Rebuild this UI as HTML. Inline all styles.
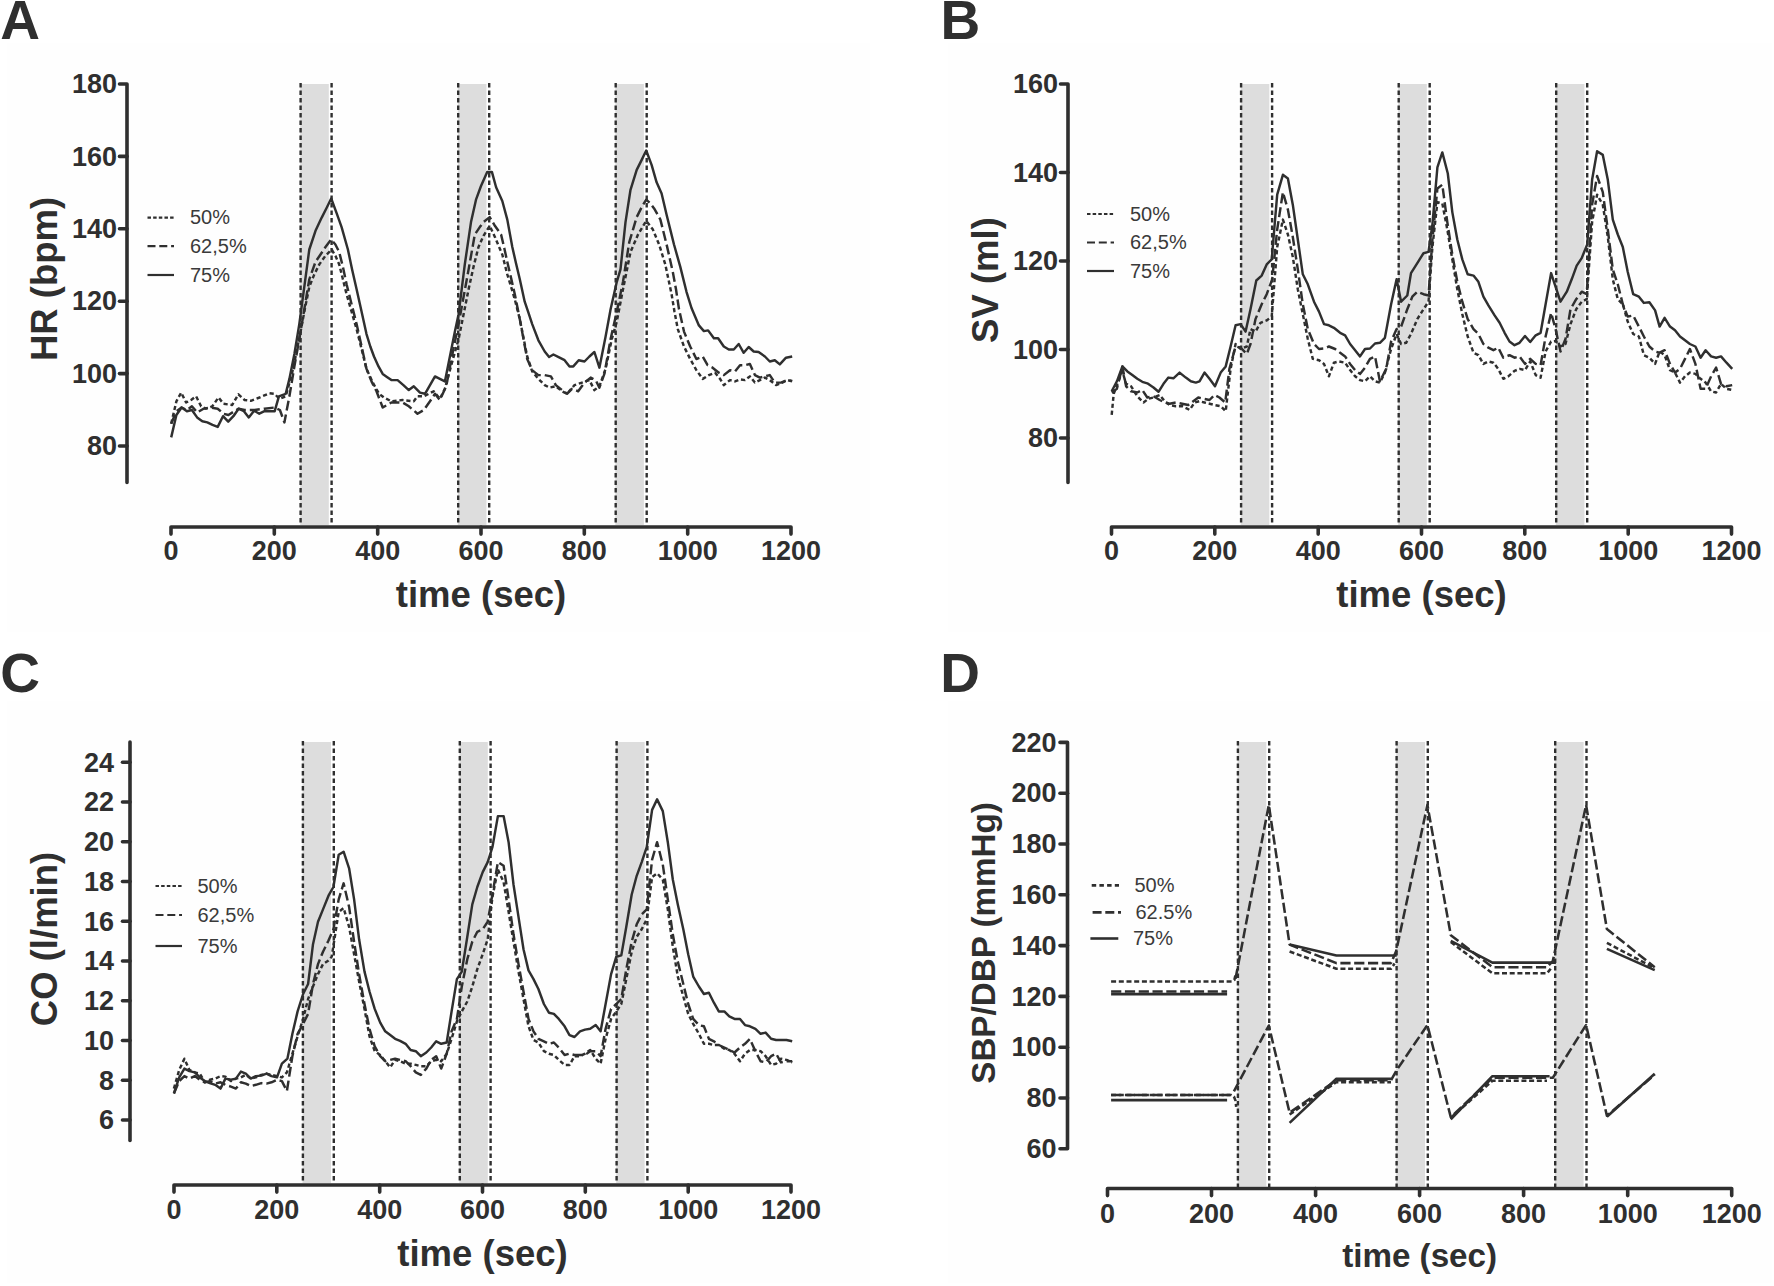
<!DOCTYPE html>
<html lang="en"><head><meta charset="utf-8"><title>Figure</title>
<style>html,body{margin:0;padding:0;background:#fff;overflow:hidden}svg{display:block}text{font-family:"Liberation Sans",Arial,Helvetica,sans-serif;fill:#2f2f2f}.tk{font-size:27px;font-weight:bold}.tt{font-weight:bold}.pl{font-size:55px;font-weight:bold}.lg{font-size:20px;fill:#3a3a3a}</style></head><body>
<svg width="1774" height="1286" viewBox="0 0 1774 1286">
<rect width="1774" height="1286" fill="#fff"/>
<rect x="7" y="43" width="862.5" height="589" fill="#fefefe"/>
<rect x="948" y="43" width="823.5" height="589" fill="#fefefe"/>
<rect x="7" y="701" width="862.5" height="581.5" fill="#fefefe"/>
<rect x="948" y="701" width="823.5" height="581.5" fill="#fefefe"/>
<g>
<rect x="300.2" y="84.0" width="28.6" height="441.0" fill="#dddddd"/>
<rect x="457.8" y="84.0" width="28.6" height="441.0" fill="#dddddd"/>
<rect x="615.3" y="84.0" width="28.6" height="441.0" fill="#dddddd"/>
<polyline points="171.2,423.7 176.4,401.3 181.2,392.6 186.1,402.5 191.1,400.0 196.1,396.3 201.1,406.3 206.0,408.7 212.3,406.3 218.5,397.5 223.5,403.8 232.2,405.0 238.4,394.3 244.6,400.0 250.8,400.8 259.5,397.5 269.5,393.3 274.5,393.8 279.4,398.8 285.7,396.3 291.9,373.9 296.4,352.8 300.6,331.6 304.8,309.2 309.3,286.8 314.3,274.4 319.3,264.4 325.5,255.7 331.7,249.5 335.4,255.7 339.2,264.4 342.9,279.3 346.6,294.3 351.6,311.7 356.6,329.1 361.6,349.0 366.5,368.9 372.8,382.6 379.0,393.8 384.0,397.5 391.4,401.3 402.6,400.0 413.8,401.3 417.5,396.3 423.8,396.3 433.7,391.3 439.9,398.8 444.9,388.8 451.6,364.0 458.6,339.1 463.6,314.2 468.6,289.3 473.5,266.9 478.5,247.0 483.5,235.8 489.7,225.8 494.9,237.0 502.3,254.5 507.3,274.4 511.1,286.8 514.8,299.3 519.8,319.2 523.5,337.8 527.2,356.5 532.2,371.4 538.4,378.9 544.7,385.1 549.6,387.6 555.8,386.3 562.1,391.3 567.0,393.8 574.5,385.1 582.0,382.6 589.4,380.1 594.4,390.1 599.4,386.3 605.6,368.9 611.8,339.1 616.8,321.6 623.0,289.3 626.8,270.6 630.5,252.0 638.0,234.6 646.2,220.9 652.9,229.6 659.1,244.5 665.3,264.4 671.6,294.3 674.5,311.7 677.8,329.1 684.0,346.5 690.2,359.0 696.4,370.2 702.7,378.9 708.9,375.1 715.1,372.7 720.1,378.9 723.8,385.1 730.0,380.1 735.0,381.4 740.0,379.4 745.0,380.1 749.9,376.4 754.9,382.6 759.9,380.1 764.9,377.6 769.8,380.1 776.1,385.1 782.3,382.6 787.3,380.1 792.2,381.4" fill="none" stroke="#2f2f2f" stroke-width="2.45" stroke-linejoin="round" stroke-dasharray="4.2 2.8"/>
<polyline points="171.2,423.7 176.4,411.2 181.6,407.5 186.9,410.0 191.9,406.3 197.3,412.5 203.5,408.7 209.8,407.5 217.7,408.7 223.5,413.7 228.4,415.0 238.4,408.7 244.6,410.0 254.6,410.0 264.5,408.7 274.5,407.5 279.9,410.0 284.4,422.4 289.4,396.3 294.4,366.4 299.3,339.1 304.3,309.2 309.3,279.3 315.5,261.9 320.5,254.5 325.5,247.0 331.2,239.5 335.4,244.5 339.2,252.0 342.9,266.9 346.6,284.3 351.6,304.2 356.6,324.1 361.6,346.5 366.5,368.9 371.5,381.4 376.5,391.3 382.7,407.5 391.4,402.5 397.6,402.5 402.6,402.5 408.8,406.3 417.5,413.7 423.8,410.0 430.0,401.3 435.0,393.8 439.9,400.0 446.2,386.3 452.4,354.0 458.6,324.1 463.6,296.8 468.6,269.4 474.8,234.6 479.8,227.1 483.5,222.1 489.7,217.1 494.9,225.8 501.1,234.6 504.3,248.2 507.3,261.9 511.1,278.1 514.8,294.3 519.8,319.2 523.5,339.1 527.2,359.0 532.2,370.2 538.4,375.1 544.7,375.1 550.9,376.4 555.8,385.1 562.1,390.1 567.0,393.8 572.0,388.8 578.2,391.3 584.5,382.6 590.7,377.6 595.7,380.1 599.4,387.6 604.4,373.9 610.6,339.1 616.8,311.7 623.0,281.8 629.3,242.0 633.0,229.6 636.7,217.1 641.7,207.2 646.2,199.7 650.4,203.5 654.1,208.4 660.4,219.6 666.6,244.5 672.8,271.9 676.0,289.3 679.0,309.2 684.0,331.6 690.2,346.5 696.4,359.0 702.7,356.5 707.6,365.2 712.6,367.7 718.8,372.7 723.8,375.1 730.0,370.2 735.0,371.4 740.0,365.2 745.0,365.2 749.9,364.0 754.9,375.1 759.9,377.6 764.9,376.4 769.8,375.1 774.8,382.6 781.0,382.6 787.3,380.1 792.2,380.9" fill="none" stroke="#2f2f2f" stroke-width="2.45" stroke-linejoin="round" stroke-dasharray="10 4"/>
<polyline points="171.2,437.4 176.4,415.0 181.6,407.5 186.9,411.2 191.9,410.0 197.1,417.4 202.3,421.2 207.3,422.4 212.5,424.9 217.7,426.9 223.0,416.2 228.2,421.7 233.4,416.2 238.6,408.7 243.9,411.2 248.8,417.4 254.1,410.7 259.3,413.7 264.5,411.2 269.5,411.2 274.7,411.2 278.9,396.3 285.7,393.8 289.4,378.9 294.4,354.0 299.3,324.1 304.3,286.8 309.3,249.5 315.5,230.8 321.7,217.6 326.7,207.7 331.2,198.5 336.7,213.4 341.6,227.1 347.9,249.5 352.1,269.4 356.6,289.3 361.6,311.7 366.5,334.1 370.3,346.5 374.0,356.5 378.5,366.4 382.7,373.9 386.9,376.9 391.4,380.1 397.6,380.1 403.4,385.1 408.8,390.1 413.8,386.3 420.0,392.6 425.0,393.8 430.0,385.1 435.0,376.4 439.9,378.9 444.9,381.4 449.9,356.5 454.9,331.6 458.6,314.2 464.8,264.4 471.0,222.1 476.0,199.7 481.0,186.0 487.2,171.9 491.9,171.9 496.1,187.3 502.3,201.0 507.3,219.6 512.3,247.0 516.0,263.2 519.8,279.3 524.7,301.7 528.5,312.9 532.2,324.1 538.4,340.3 544.7,351.5 549.1,357.0 553.4,354.5 559.6,357.7 564.6,360.2 569.5,366.4 573.3,366.4 578.7,360.2 584.5,361.5 589.4,356.5 594.4,352.0 599.4,367.7 605.6,336.6 610.6,309.2 616.8,281.8 620.5,269.4 625.5,222.1 630.5,189.8 636.7,169.9 641.7,159.9 646.2,150.5 651.6,164.9 656.6,182.3 661.6,193.5 666.6,214.7 670.3,229.6 674.0,244.5 680.3,266.9 686.5,291.8 691.5,308.0 695.2,316.7 698.9,325.4 703.9,331.1 708.1,330.4 713.9,338.3 718.1,338.3 723.8,346.5 728.8,349.5 733.8,349.5 738.7,344.0 743.7,352.8 748.7,347.0 753.7,351.5 758.6,352.0 764.9,356.5 769.8,361.5 774.8,360.2 779.8,364.4 786.0,357.7 792.2,356.5" fill="none" stroke="#2f2f2f" stroke-width="2.45" stroke-linejoin="round"/>
<line x1="300.6" y1="83.0" x2="300.6" y2="525.5" stroke="#2f2f2f" stroke-width="2.4" stroke-dasharray="4.6 2.9"/>
<line x1="331.6" y1="83.0" x2="331.6" y2="525.5" stroke="#2f2f2f" stroke-width="2.4" stroke-dasharray="4.6 2.9"/>
<line x1="458.2" y1="83.0" x2="458.2" y2="525.5" stroke="#2f2f2f" stroke-width="2.4" stroke-dasharray="4.6 2.9"/>
<line x1="489.2" y1="83.0" x2="489.2" y2="525.5" stroke="#2f2f2f" stroke-width="2.4" stroke-dasharray="4.6 2.9"/>
<line x1="615.7" y1="83.0" x2="615.7" y2="525.5" stroke="#2f2f2f" stroke-width="2.4" stroke-dasharray="4.6 2.9"/>
<line x1="646.7" y1="83.0" x2="646.7" y2="525.5" stroke="#2f2f2f" stroke-width="2.4" stroke-dasharray="4.6 2.9"/>
<polyline points="119.5,84.0 127.0,84.0 127.0,482.5" fill="none" stroke="#2f2f2f" stroke-width="3.6" stroke-linejoin="round" stroke-linecap="round"/>
<polyline points="171.0,534.1 171.0,527.0 791.0,527.0 791.0,534.1" fill="none" stroke="#2f2f2f" stroke-width="3.6" stroke-linejoin="round" stroke-linecap="round"/>
<text x="117.0" y="93.2" text-anchor="end" class="tk">180</text>
<line x1="119.5" y1="156.4" x2="127" y2="156.4" stroke="#2f2f2f" stroke-width="3.6" stroke-linecap="round"/>
<text x="117.0" y="165.6" text-anchor="end" class="tk">160</text>
<line x1="119.5" y1="228.8" x2="127" y2="228.8" stroke="#2f2f2f" stroke-width="3.6" stroke-linecap="round"/>
<text x="117.0" y="238.0" text-anchor="end" class="tk">140</text>
<line x1="119.5" y1="301.2" x2="127" y2="301.2" stroke="#2f2f2f" stroke-width="3.6" stroke-linecap="round"/>
<text x="117.0" y="310.4" text-anchor="end" class="tk">120</text>
<line x1="119.5" y1="373.6" x2="127" y2="373.6" stroke="#2f2f2f" stroke-width="3.6" stroke-linecap="round"/>
<text x="117.0" y="382.8" text-anchor="end" class="tk">100</text>
<line x1="119.5" y1="446.0" x2="127" y2="446.0" stroke="#2f2f2f" stroke-width="3.6" stroke-linecap="round"/>
<text x="117.0" y="455.2" text-anchor="end" class="tk">80</text>
<text x="171.0" y="560.2" text-anchor="middle" class="tk">0</text>
<line x1="274.3" y1="527" x2="274.3" y2="534.1" stroke="#2f2f2f" stroke-width="3.6" stroke-linecap="round"/>
<text x="274.3" y="560.2" text-anchor="middle" class="tk">200</text>
<line x1="377.7" y1="527" x2="377.7" y2="534.1" stroke="#2f2f2f" stroke-width="3.6" stroke-linecap="round"/>
<text x="377.7" y="560.2" text-anchor="middle" class="tk">400</text>
<line x1="481.0" y1="527" x2="481.0" y2="534.1" stroke="#2f2f2f" stroke-width="3.6" stroke-linecap="round"/>
<text x="481.0" y="560.2" text-anchor="middle" class="tk">600</text>
<line x1="584.3" y1="527" x2="584.3" y2="534.1" stroke="#2f2f2f" stroke-width="3.6" stroke-linecap="round"/>
<text x="584.3" y="560.2" text-anchor="middle" class="tk">800</text>
<line x1="687.7" y1="527" x2="687.7" y2="534.1" stroke="#2f2f2f" stroke-width="3.6" stroke-linecap="round"/>
<text x="687.7" y="560.2" text-anchor="middle" class="tk">1000</text>
<text x="791.0" y="560.2" text-anchor="middle" class="tk">1200</text>
<text x="481.0" y="607.0" text-anchor="middle" class="tt" style="font-size:36.5px">time (sec)</text>
<text transform="translate(57.0,279.0) rotate(-90)" text-anchor="middle" class="tt" style="font-size:36.5px">HR (bpm)</text>
<text x="0.3" y="39.1" class="pl">A</text>
<line x1="147.5" y1="217.6" x2="174.0" y2="217.6" stroke="#2f2f2f" stroke-width="2.2" stroke-dasharray="3.5 2.15"/>
<text x="190.0" y="224.4" class="lg">50%</text>
<line x1="147.5" y1="246.2" x2="174.0" y2="246.2" stroke="#2f2f2f" stroke-width="2.2" stroke-dasharray="8 3.8"/>
<text x="190.0" y="253.0" class="lg">62,5%</text>
<line x1="147.5" y1="275.0" x2="174.0" y2="275.0" stroke="#2f2f2f" stroke-width="2.2" />
<text x="190.0" y="281.8" class="lg">75%</text>
</g>
<g>
<rect x="1240.7" y="84.0" width="28.6" height="441.0" fill="#dddddd"/>
<rect x="1398.2" y="84.0" width="28.6" height="441.0" fill="#dddddd"/>
<rect x="1555.8" y="84.0" width="28.6" height="441.0" fill="#dddddd"/>
<polyline points="1111.7,414.9 1113.7,393.8 1117.4,383.8 1122.4,371.4 1126.1,383.8 1131.1,386.3 1137.3,396.3 1143.5,402.5 1148.5,398.7 1153.5,397.5 1159.7,395.0 1164.7,401.2 1169.7,405.0 1175.9,406.2 1182.1,406.2 1189.6,409.9 1194.6,402.5 1199.5,401.2 1204.5,402.5 1209.5,403.7 1214.5,405.0 1220.7,406.2 1225.7,411.2 1230.6,368.9 1235.6,344.0 1240.6,349.0 1246.8,346.5 1250.5,329.1 1255.5,331.6 1260.5,322.8 1266.7,320.4 1271.7,316.6 1277.2,247.0 1282.9,219.6 1287.9,234.5 1292.8,256.9 1297.8,289.3 1302.8,314.1 1307.8,339.0 1312.8,358.9 1319.0,360.2 1324.0,363.9 1328.9,376.3 1333.9,362.7 1338.9,361.4 1345.1,362.7 1350.1,370.1 1355.1,376.3 1360.0,380.1 1365.0,381.3 1370.0,376.3 1375.0,381.3 1379.9,382.6 1384.9,372.6 1391.1,349.0 1396.6,334.0 1401.1,344.0 1406.1,342.8 1411.0,334.0 1417.3,319.1 1423.5,309.2 1428.5,301.7 1432.4,247.0 1437.4,202.2 1442.3,203.4 1447.3,229.5 1452.3,259.4 1457.3,289.3 1462.3,314.1 1467.7,336.5 1473.5,352.7 1478.4,355.2 1483.4,363.9 1488.4,361.4 1493.4,362.7 1498.3,368.9 1503.3,378.8 1508.3,376.3 1514.5,370.9 1519.5,368.9 1525.0,370.1 1530.2,361.4 1535.7,375.1 1540.6,377.6 1545.6,351.5 1551.1,341.5 1555.6,341.0 1560.5,346.5 1565.5,344.0 1570.5,324.1 1576.2,309.2 1581.7,301.7 1586.7,299.2 1592.1,222.1 1597.1,194.7 1602.8,204.7 1607.8,237.0 1612.8,279.3 1617.8,299.2 1622.8,304.2 1627.7,321.6 1633.2,334.0 1638.9,336.5 1643.9,355.2 1649.4,357.7 1655.1,363.9 1659.6,351.5 1664.6,355.2 1670.0,370.1 1675.0,372.6 1680.0,382.6 1685.0,376.3 1689.9,372.6 1695.4,373.9 1700.6,378.8 1705.6,382.6 1711.1,391.3 1716.1,392.5 1721.0,383.8 1726.5,388.8 1732.2,390.0" fill="none" stroke="#2f2f2f" stroke-width="2.45" stroke-linejoin="round" stroke-dasharray="4.2 2.8"/>
<polyline points="1111.7,392.5 1116.9,388.8 1122.4,366.4 1126.1,386.3 1131.1,391.3 1137.3,392.5 1142.3,390.0 1147.3,397.5 1153.5,396.3 1159.7,400.0 1164.7,402.5 1169.7,403.7 1175.9,402.5 1182.1,403.7 1188.3,405.0 1193.3,401.2 1198.3,397.5 1203.3,398.7 1209.5,400.0 1214.5,395.0 1219.4,397.5 1225.2,402.5 1229.4,368.9 1235.6,346.5 1240.6,347.7 1246.8,354.0 1250.5,344.0 1255.5,319.1 1261.7,304.2 1266.7,294.2 1272.2,279.3 1277.2,229.5 1282.9,192.2 1287.9,209.6 1292.8,237.0 1297.8,269.3 1302.8,304.2 1307.8,329.1 1314.0,344.0 1319.0,349.0 1324.0,348.5 1328.9,346.5 1335.1,349.0 1340.1,352.7 1345.1,356.4 1350.1,363.9 1355.1,370.1 1360.0,373.9 1365.0,367.6 1370.0,358.9 1375.0,356.4 1379.9,381.3 1386.2,368.9 1391.1,341.5 1396.6,329.1 1401.1,326.6 1407.3,309.2 1412.3,296.7 1417.3,291.7 1423.5,294.2 1428.5,295.5 1432.4,239.5 1437.4,188.5 1442.3,184.7 1447.3,222.1 1452.3,254.4 1457.3,281.8 1462.3,301.7 1467.7,319.1 1473.5,329.1 1478.4,334.0 1483.4,344.0 1488.4,347.7 1493.4,350.2 1498.3,347.7 1503.3,357.7 1509.5,355.2 1514.5,357.7 1519.5,356.4 1525.0,363.9 1530.2,358.9 1535.7,363.9 1540.6,365.1 1545.6,336.5 1551.1,312.9 1555.6,329.1 1560.5,351.5 1565.5,339.0 1570.5,309.2 1576.2,299.2 1581.7,291.7 1586.7,294.2 1592.1,204.7 1597.1,176.0 1602.8,192.2 1607.8,229.5 1612.8,269.3 1617.8,284.3 1622.8,304.2 1627.7,316.6 1633.2,315.4 1638.9,326.6 1643.9,336.5 1649.4,346.5 1655.1,351.5 1659.6,352.7 1664.6,350.2 1670.0,363.9 1675.0,372.6 1680.0,368.9 1685.0,358.9 1689.9,349.0 1695.4,363.9 1700.6,388.8 1705.6,388.8 1711.1,376.3 1716.1,367.6 1721.0,383.8 1726.5,386.3 1732.2,385.1" fill="none" stroke="#2f2f2f" stroke-width="2.45" stroke-linejoin="round" stroke-dasharray="10 4"/>
<polyline points="1111.7,391.3 1116.9,381.3 1122.4,366.4 1127.4,371.4 1132.3,375.1 1137.3,378.8 1142.3,381.8 1147.3,383.3 1153.5,387.5 1158.5,391.8 1163.5,383.8 1168.4,377.6 1173.4,378.3 1179.6,372.6 1185.8,377.6 1190.8,381.3 1195.8,382.6 1199.5,381.3 1204.5,372.6 1209.5,378.8 1215.0,386.3 1220.7,372.6 1225.7,366.4 1230.6,346.5 1235.6,325.3 1240.6,324.1 1245.6,331.6 1250.5,309.2 1256.3,280.5 1261.7,275.6 1266.7,264.4 1271.7,259.4 1277.2,194.7 1282.9,174.8 1287.9,178.5 1292.8,204.7 1297.8,239.5 1302.8,274.3 1307.8,284.3 1314.0,301.7 1319.0,311.6 1324.0,324.1 1328.9,325.3 1333.9,327.8 1340.1,332.8 1345.1,335.3 1350.1,344.0 1355.1,350.2 1360.0,356.4 1365.0,349.0 1370.0,348.5 1375.0,343.5 1379.9,342.8 1384.9,337.8 1391.1,304.2 1396.6,279.3 1401.1,301.7 1407.3,295.5 1411.0,273.1 1417.3,263.1 1423.5,253.2 1428.5,251.9 1432.4,224.6 1437.4,167.3 1442.3,152.4 1447.8,173.5 1452.3,212.1 1457.3,239.5 1462.3,259.4 1467.7,274.3 1473.5,275.6 1478.4,281.8 1483.4,296.7 1488.4,305.4 1494.6,315.4 1499.6,322.8 1504.6,332.8 1509.5,341.5 1514.5,345.2 1519.5,342.8 1525.0,336.0 1530.2,342.0 1535.7,335.3 1540.6,332.8 1545.6,304.2 1551.1,273.1 1555.6,286.8 1560.5,301.7 1566.8,291.7 1571.7,279.3 1576.7,265.6 1581.7,258.1 1587.2,244.5 1592.1,179.8 1597.1,151.2 1602.8,154.9 1607.8,179.8 1612.8,219.6 1617.8,234.5 1622.8,247.0 1627.7,271.8 1633.2,294.2 1638.9,296.7 1643.9,302.9 1649.4,302.2 1655.1,310.4 1659.6,326.6 1664.6,317.9 1670.0,326.6 1675.0,330.3 1680.0,336.5 1685.0,340.3 1689.9,344.0 1695.4,346.5 1700.6,357.7 1705.6,350.2 1711.1,356.4 1716.1,357.7 1721.0,356.4 1726.5,362.7 1732.2,368.9" fill="none" stroke="#2f2f2f" stroke-width="2.45" stroke-linejoin="round"/>
<line x1="1241.1" y1="83.0" x2="1241.1" y2="525.5" stroke="#2f2f2f" stroke-width="2.4" stroke-dasharray="4.6 2.9"/>
<line x1="1272.1" y1="83.0" x2="1272.1" y2="525.5" stroke="#2f2f2f" stroke-width="2.4" stroke-dasharray="4.6 2.9"/>
<line x1="1398.7" y1="83.0" x2="1398.7" y2="525.5" stroke="#2f2f2f" stroke-width="2.4" stroke-dasharray="4.6 2.9"/>
<line x1="1429.7" y1="83.0" x2="1429.7" y2="525.5" stroke="#2f2f2f" stroke-width="2.4" stroke-dasharray="4.6 2.9"/>
<line x1="1556.2" y1="83.0" x2="1556.2" y2="525.5" stroke="#2f2f2f" stroke-width="2.4" stroke-dasharray="4.6 2.9"/>
<line x1="1587.2" y1="83.0" x2="1587.2" y2="525.5" stroke="#2f2f2f" stroke-width="2.4" stroke-dasharray="4.6 2.9"/>
<polyline points="1060.5,84.0 1068.0,84.0 1068.0,482.5" fill="none" stroke="#2f2f2f" stroke-width="3.6" stroke-linejoin="round" stroke-linecap="round"/>
<polyline points="1111.5,534.1 1111.5,527.0 1731.5,527.0 1731.5,534.1" fill="none" stroke="#2f2f2f" stroke-width="3.6" stroke-linejoin="round" stroke-linecap="round"/>
<text x="1058.0" y="93.2" text-anchor="end" class="tk">160</text>
<line x1="1060.5" y1="172.5" x2="1068" y2="172.5" stroke="#2f2f2f" stroke-width="3.6" stroke-linecap="round"/>
<text x="1058.0" y="181.7" text-anchor="end" class="tk">140</text>
<line x1="1060.5" y1="261.0" x2="1068" y2="261.0" stroke="#2f2f2f" stroke-width="3.6" stroke-linecap="round"/>
<text x="1058.0" y="270.2" text-anchor="end" class="tk">120</text>
<line x1="1060.5" y1="349.5" x2="1068" y2="349.5" stroke="#2f2f2f" stroke-width="3.6" stroke-linecap="round"/>
<text x="1058.0" y="358.7" text-anchor="end" class="tk">100</text>
<line x1="1060.5" y1="438.0" x2="1068" y2="438.0" stroke="#2f2f2f" stroke-width="3.6" stroke-linecap="round"/>
<text x="1058.0" y="447.2" text-anchor="end" class="tk">80</text>
<text x="1111.5" y="560.2" text-anchor="middle" class="tk">0</text>
<line x1="1214.8" y1="527" x2="1214.8" y2="534.1" stroke="#2f2f2f" stroke-width="3.6" stroke-linecap="round"/>
<text x="1214.8" y="560.2" text-anchor="middle" class="tk">200</text>
<line x1="1318.2" y1="527" x2="1318.2" y2="534.1" stroke="#2f2f2f" stroke-width="3.6" stroke-linecap="round"/>
<text x="1318.2" y="560.2" text-anchor="middle" class="tk">400</text>
<line x1="1421.5" y1="527" x2="1421.5" y2="534.1" stroke="#2f2f2f" stroke-width="3.6" stroke-linecap="round"/>
<text x="1421.5" y="560.2" text-anchor="middle" class="tk">600</text>
<line x1="1524.8" y1="527" x2="1524.8" y2="534.1" stroke="#2f2f2f" stroke-width="3.6" stroke-linecap="round"/>
<text x="1524.8" y="560.2" text-anchor="middle" class="tk">800</text>
<line x1="1628.2" y1="527" x2="1628.2" y2="534.1" stroke="#2f2f2f" stroke-width="3.6" stroke-linecap="round"/>
<text x="1628.2" y="560.2" text-anchor="middle" class="tk">1000</text>
<text x="1731.5" y="560.2" text-anchor="middle" class="tk">1200</text>
<text x="1421.5" y="607.0" text-anchor="middle" class="tt" style="font-size:36.5px">time (sec)</text>
<text transform="translate(997.5,280.0) rotate(-90)" text-anchor="middle" class="tt" style="font-size:36.5px">SV (ml)</text>
<text x="940.5" y="39.1" class="pl">B</text>
<line x1="1087.0" y1="214.0" x2="1114.0" y2="214.0" stroke="#2f2f2f" stroke-width="2.2" stroke-dasharray="3.5 2.15"/>
<text x="1130.0" y="220.8" class="lg">50%</text>
<line x1="1087.0" y1="242.5" x2="1114.0" y2="242.5" stroke="#2f2f2f" stroke-width="2.2" stroke-dasharray="8 3.8"/>
<text x="1130.0" y="249.3" class="lg">62,5%</text>
<line x1="1087.0" y1="271.0" x2="1114.0" y2="271.0" stroke="#2f2f2f" stroke-width="2.2" />
<text x="1130.0" y="277.8" class="lg">75%</text>
</g>
<g>
<rect x="302.5" y="742.0" width="28.5" height="441.0" fill="#dddddd"/>
<rect x="459.4" y="742.0" width="28.4" height="441.0" fill="#dddddd"/>
<rect x="616.2" y="742.0" width="28.4" height="441.0" fill="#dddddd"/>
<polyline points="173.9,1088.6 179.2,1069.9 184.4,1058.7 189.4,1069.9 194.8,1072.4 199.8,1073.6 204.8,1082.3 209.8,1079.8 215.2,1078.6 220.5,1076.1 225.4,1076.6 230.9,1081.1 235.9,1078.6 240.9,1077.4 245.8,1074.9 250.8,1078.6 255.8,1077.4 261.3,1074.9 266.5,1073.6 271.5,1074.9 277.0,1076.1 281.9,1077.4 286.9,1072.4 292.4,1053.7 297.6,1036.3 303.1,1018.9 308.1,999.0 313.0,986.5 318.0,974.1 323.0,964.1 328.5,960.4 331.7,956.7 338.7,911.9 343.6,908.1 349.1,926.8 354.1,954.2 359.1,981.6 364.5,1008.9 369.5,1036.3 374.7,1051.2 380.2,1055.0 385.2,1061.2 390.2,1067.4 395.1,1059.9 400.1,1061.2 405.6,1063.7 410.6,1063.7 415.8,1064.9 420.8,1066.2 426.3,1066.2 431.2,1061.2 436.2,1059.9 441.2,1061.2 446.7,1053.7 451.6,1038.8 456.9,1021.4 461.8,1011.4 467.3,1001.5 472.3,986.5 477.3,969.1 482.7,954.2 487.7,939.3 492.4,897.0 497.9,869.6 503.6,882.0 508.6,911.9 513.5,941.7 518.5,971.6 523.5,999.0 528.5,1026.3 533.5,1040.0 538.4,1042.5 543.9,1051.2 548.9,1053.7 553.9,1055.0 558.8,1059.9 564.6,1064.9 569.5,1064.9 574.5,1056.2 580.0,1056.2 585.0,1053.7 590.2,1050.0 595.7,1058.7 600.6,1063.7 605.6,1038.8 611.1,1018.9 616.3,1011.4 621.3,1004.0 626.3,979.1 631.7,951.7 636.7,936.8 641.7,929.3 646.7,919.3 652.1,877.0 657.1,873.3 662.8,879.5 667.8,909.4 672.8,946.7 677.8,976.6 683.3,996.5 688.2,1013.9 693.2,1023.9 698.9,1033.8 703.9,1043.8 708.9,1043.8 713.9,1045.0 718.8,1045.0 724.3,1048.7 729.3,1050.0 734.5,1053.7 740.0,1061.2 745.0,1053.7 749.9,1050.0 755.4,1050.0 760.6,1051.2 765.6,1056.2 771.1,1064.9 776.1,1063.7 781.0,1058.7 786.5,1059.9 792.2,1062.4" fill="none" stroke="#2f2f2f" stroke-width="2.45" stroke-linejoin="round" stroke-dasharray="4.2 2.8"/>
<polyline points="173.9,1093.5 179.2,1081.1 184.4,1076.1 189.4,1078.6 194.8,1076.1 199.8,1079.8 204.8,1082.3 209.8,1081.1 215.2,1083.6 220.5,1082.3 225.4,1084.8 230.9,1086.6 235.9,1088.6 240.9,1082.3 245.8,1083.6 250.8,1086.1 255.8,1084.8 261.3,1083.1 266.5,1083.6 271.5,1082.3 277.0,1079.8 281.9,1081.1 286.9,1091.0 292.4,1056.2 297.6,1033.8 303.1,1023.9 308.1,1013.9 313.0,984.0 318.0,964.1 323.0,951.7 328.5,940.5 333.4,929.3 338.7,899.4 343.6,883.3 349.1,906.9 354.1,941.7 359.1,974.1 364.5,1004.0 369.5,1028.8 374.7,1046.3 380.2,1056.2 385.2,1061.2 390.2,1059.9 395.1,1058.7 400.1,1059.9 405.6,1061.2 410.6,1066.2 415.8,1072.4 420.8,1074.9 426.3,1068.6 431.2,1059.9 436.2,1056.2 441.2,1068.6 446.7,1053.7 451.6,1031.3 456.9,1018.9 461.8,986.5 467.3,959.2 472.3,941.7 477.3,931.8 482.7,929.3 487.7,921.8 492.4,894.5 497.9,862.1 503.6,865.8 508.6,899.4 513.5,934.3 518.5,964.1 523.5,991.5 528.5,1018.9 533.5,1031.3 538.4,1038.8 543.9,1041.3 548.9,1043.8 553.9,1042.5 558.8,1047.5 564.6,1055.0 569.5,1053.7 574.5,1055.0 580.0,1055.0 585.0,1055.0 590.2,1051.2 595.7,1051.2 600.6,1056.2 605.6,1028.8 611.1,1008.9 616.3,1004.0 621.3,999.0 626.3,969.1 631.7,941.7 636.7,924.3 641.7,914.4 646.7,909.4 652.1,859.6 657.1,842.2 662.8,864.6 667.8,899.4 672.8,934.3 677.8,961.6 683.3,984.0 688.2,1004.0 693.2,1018.9 698.9,1025.1 703.9,1026.3 708.9,1038.8 713.9,1041.3 718.8,1045.0 724.3,1047.5 729.3,1050.0 734.5,1052.5 740.0,1047.5 745.0,1043.8 749.9,1038.8 755.4,1051.2 760.6,1061.2 765.6,1062.4 771.1,1056.2 776.1,1053.7 781.0,1062.4 786.5,1061.2 792.2,1061.2" fill="none" stroke="#2f2f2f" stroke-width="2.45" stroke-linejoin="round" stroke-dasharray="10 4"/>
<polyline points="173.9,1093.5 179.2,1077.4 184.4,1068.6 189.4,1071.1 194.8,1072.4 199.8,1077.4 204.8,1081.1 209.8,1083.1 215.2,1084.8 220.5,1088.6 225.4,1078.6 230.9,1079.8 235.9,1078.6 240.9,1071.6 245.8,1073.6 250.8,1078.6 255.8,1076.1 261.3,1075.6 266.5,1073.6 271.5,1076.1 277.0,1077.4 281.9,1063.7 287.4,1058.7 292.4,1033.8 297.6,1011.4 303.1,994.0 308.1,984.0 313.0,944.2 318.0,921.8 323.0,909.4 328.5,895.7 333.4,887.0 338.7,854.7 343.6,851.7 349.1,868.3 354.1,899.4 359.1,939.3 364.5,971.6 369.5,991.5 374.7,1008.9 380.2,1022.6 385.2,1031.3 390.2,1035.1 395.1,1038.8 400.1,1040.8 405.6,1043.8 410.6,1050.0 415.8,1051.2 420.8,1056.2 426.3,1052.5 431.2,1047.5 436.2,1041.3 441.2,1043.8 446.7,1042.5 451.6,1011.4 456.9,979.1 461.8,971.6 467.3,936.8 472.3,904.4 477.3,887.0 482.7,872.1 487.7,862.1 492.4,847.2 497.9,816.1 503.6,816.1 508.6,842.2 513.5,884.5 518.5,916.9 523.5,949.2 528.5,970.4 533.5,979.1 538.4,989.0 543.9,1004.0 548.9,1012.7 553.9,1013.9 558.8,1018.9 564.6,1026.3 569.5,1035.1 574.5,1037.0 580.0,1031.3 585.0,1029.6 590.2,1028.8 595.7,1025.1 600.6,1031.3 605.6,1004.0 611.1,974.1 616.3,956.7 621.3,955.4 626.3,926.8 631.7,894.5 636.7,875.8 641.7,862.1 646.7,847.2 652.1,809.9 657.1,799.4 662.8,811.1 667.8,842.2 672.8,879.5 677.8,904.4 683.3,929.3 688.2,954.2 693.2,976.6 698.9,986.5 703.9,994.0 708.9,992.8 713.9,1002.7 718.8,1011.4 724.3,1011.4 729.3,1016.4 734.5,1018.9 740.0,1018.9 745.0,1025.1 749.9,1026.3 755.4,1028.8 760.6,1033.8 765.6,1032.6 771.1,1038.8 776.1,1040.0 781.0,1040.0 786.5,1040.0 792.2,1041.3" fill="none" stroke="#2f2f2f" stroke-width="2.45" stroke-linejoin="round"/>
<line x1="302.9" y1="741.0" x2="302.9" y2="1183.5" stroke="#2f2f2f" stroke-width="2.4" stroke-dasharray="4.6 2.9"/>
<line x1="333.8" y1="741.0" x2="333.8" y2="1183.5" stroke="#2f2f2f" stroke-width="2.4" stroke-dasharray="4.6 2.9"/>
<line x1="459.8" y1="741.0" x2="459.8" y2="1183.5" stroke="#2f2f2f" stroke-width="2.4" stroke-dasharray="4.6 2.9"/>
<line x1="490.6" y1="741.0" x2="490.6" y2="1183.5" stroke="#2f2f2f" stroke-width="2.4" stroke-dasharray="4.6 2.9"/>
<line x1="616.6" y1="741.0" x2="616.6" y2="1183.5" stroke="#2f2f2f" stroke-width="2.4" stroke-dasharray="4.6 2.9"/>
<line x1="647.4" y1="741.0" x2="647.4" y2="1183.5" stroke="#2f2f2f" stroke-width="2.4" stroke-dasharray="4.6 2.9"/>
<polyline points="130.0,742.0 130.0,1140.5" fill="none" stroke="#2f2f2f" stroke-width="3.6" stroke-linejoin="round" stroke-linecap="round"/>
<polyline points="174.0,1192.1 174.0,1185.0 791.0,1185.0 791.0,1192.1" fill="none" stroke="#2f2f2f" stroke-width="3.6" stroke-linejoin="round" stroke-linecap="round"/>
<line x1="122.5" y1="762.2" x2="130" y2="762.2" stroke="#2f2f2f" stroke-width="3.6" stroke-linecap="round"/>
<text x="114.0" y="771.5" text-anchor="end" class="tk">24</text>
<line x1="122.5" y1="802.0" x2="130" y2="802.0" stroke="#2f2f2f" stroke-width="3.6" stroke-linecap="round"/>
<text x="114.0" y="811.2" text-anchor="end" class="tk">22</text>
<line x1="122.5" y1="841.8" x2="130" y2="841.8" stroke="#2f2f2f" stroke-width="3.6" stroke-linecap="round"/>
<text x="114.0" y="851.0" text-anchor="end" class="tk">20</text>
<line x1="122.5" y1="881.5" x2="130" y2="881.5" stroke="#2f2f2f" stroke-width="3.6" stroke-linecap="round"/>
<text x="114.0" y="890.7" text-anchor="end" class="tk">18</text>
<line x1="122.5" y1="921.2" x2="130" y2="921.2" stroke="#2f2f2f" stroke-width="3.6" stroke-linecap="round"/>
<text x="114.0" y="930.5" text-anchor="end" class="tk">16</text>
<line x1="122.5" y1="961.0" x2="130" y2="961.0" stroke="#2f2f2f" stroke-width="3.6" stroke-linecap="round"/>
<text x="114.0" y="970.2" text-anchor="end" class="tk">14</text>
<line x1="122.5" y1="1000.8" x2="130" y2="1000.8" stroke="#2f2f2f" stroke-width="3.6" stroke-linecap="round"/>
<text x="114.0" y="1010.0" text-anchor="end" class="tk">12</text>
<line x1="122.5" y1="1040.5" x2="130" y2="1040.5" stroke="#2f2f2f" stroke-width="3.6" stroke-linecap="round"/>
<text x="114.0" y="1049.7" text-anchor="end" class="tk">10</text>
<line x1="122.5" y1="1080.2" x2="130" y2="1080.2" stroke="#2f2f2f" stroke-width="3.6" stroke-linecap="round"/>
<text x="114.0" y="1089.5" text-anchor="end" class="tk">8</text>
<line x1="122.5" y1="1120.0" x2="130" y2="1120.0" stroke="#2f2f2f" stroke-width="3.6" stroke-linecap="round"/>
<text x="114.0" y="1129.2" text-anchor="end" class="tk">6</text>
<text x="174.0" y="1218.7" text-anchor="middle" class="tk">0</text>
<line x1="276.8" y1="1185" x2="276.8" y2="1192.1" stroke="#2f2f2f" stroke-width="3.6" stroke-linecap="round"/>
<text x="276.8" y="1218.7" text-anchor="middle" class="tk">200</text>
<line x1="379.7" y1="1185" x2="379.7" y2="1192.1" stroke="#2f2f2f" stroke-width="3.6" stroke-linecap="round"/>
<text x="379.7" y="1218.7" text-anchor="middle" class="tk">400</text>
<line x1="482.5" y1="1185" x2="482.5" y2="1192.1" stroke="#2f2f2f" stroke-width="3.6" stroke-linecap="round"/>
<text x="482.5" y="1218.7" text-anchor="middle" class="tk">600</text>
<line x1="585.3" y1="1185" x2="585.3" y2="1192.1" stroke="#2f2f2f" stroke-width="3.6" stroke-linecap="round"/>
<text x="585.3" y="1218.7" text-anchor="middle" class="tk">800</text>
<line x1="688.2" y1="1185" x2="688.2" y2="1192.1" stroke="#2f2f2f" stroke-width="3.6" stroke-linecap="round"/>
<text x="688.2" y="1218.7" text-anchor="middle" class="tk">1000</text>
<text x="791.0" y="1218.7" text-anchor="middle" class="tk">1200</text>
<text x="482.5" y="1265.8" text-anchor="middle" class="tt" style="font-size:36.5px">time (sec)</text>
<text transform="translate(57.0,939.0) rotate(-90)" text-anchor="middle" class="tt" style="font-size:36.5px">CO (l/min)</text>
<text x="0.3" y="691.8" class="pl">C</text>
<line x1="155.5" y1="886.0" x2="182.0" y2="886.0" stroke="#2f2f2f" stroke-width="2.2" stroke-dasharray="3.5 2.15"/>
<text x="197.5" y="892.8" class="lg">50%</text>
<line x1="155.5" y1="915.0" x2="182.0" y2="915.0" stroke="#2f2f2f" stroke-width="2.2" stroke-dasharray="8 3.8"/>
<text x="197.5" y="921.8" class="lg">62,5%</text>
<line x1="155.5" y1="946.0" x2="182.0" y2="946.0" stroke="#2f2f2f" stroke-width="2.2" />
<text x="197.5" y="952.8" class="lg">75%</text>
</g>
<g>
<rect x="1237.5" y="742.0" width="28.8" height="444.5" fill="#dddddd"/>
<rect x="1396.2" y="742.0" width="28.8" height="444.5" fill="#dddddd"/>
<rect x="1554.8" y="742.0" width="28.8" height="444.5" fill="#dddddd"/>
<polyline points="1111.1,981.4 1232.3,981.4 1234.4,979.9 1235.5,975.0" fill="none" stroke="#2f2f2f" stroke-width="2.55" stroke-linejoin="round" stroke-dasharray="5 2.7"/>
<polyline points="1111.1,991.5 1227.1,991.5" fill="none" stroke="#2f2f2f" stroke-width="2.55" stroke-linejoin="round" stroke-dasharray="10.2 3.6"/>
<polyline points="1111.1,994.1 1227.1,994.1" fill="none" stroke="#2f2f2f" stroke-width="2.55" stroke-linejoin="round"/>
<polyline points="1235.5,978.8 1268.8,804.9 1289.6,944.6 1336.4,963.1 1391.0,963.1 1396.2,951.0 1427.4,804.9 1450.8,935.2 1492.4,967.2 1547.0,967.2 1552.8,961.1 1586.1,804.9 1606.9,929.1 1654.7,967.2" fill="none" stroke="#2f2f2f" stroke-width="2.55" stroke-linejoin="round" stroke-dasharray="10.2 3.6"/>
<polyline points="1289.6,944.4 1336.4,955.5 1396.7,955.5" fill="none" stroke="#2f2f2f" stroke-width="2.55" stroke-linejoin="round"/>
<polyline points="1289.6,951.5 1336.4,968.7 1391.0,968.7 1394.6,963.6" fill="none" stroke="#2f2f2f" stroke-width="2.55" stroke-linejoin="round" stroke-dasharray="5 2.7"/>
<polyline points="1450.8,940.8 1492.4,962.6 1555.9,962.6" fill="none" stroke="#2f2f2f" stroke-width="2.55" stroke-linejoin="round"/>
<polyline points="1450.8,942.1 1492.4,973.3 1547.0,973.3 1550.7,968.7" fill="none" stroke="#2f2f2f" stroke-width="2.55" stroke-linejoin="round" stroke-dasharray="5 2.7"/>
<polyline points="1606.9,948.9 1654.7,970.2" fill="none" stroke="#2f2f2f" stroke-width="2.55" stroke-linejoin="round"/>
<polyline points="1606.9,942.8 1654.7,968.2" fill="none" stroke="#2f2f2f" stroke-width="2.55" stroke-linejoin="round" stroke-dasharray="5 2.7"/>
<polyline points="1111.1,1095.0 1230.3,1095.0" fill="none" stroke="#2f2f2f" stroke-width="2.55" stroke-linejoin="round" stroke-dasharray="10.2 3.6"/>
<polyline points="1111.1,1095.0 1231.3,1095.0 1233.9,1096.5 1235.5,1100.6 1236.2,1106.9" fill="none" stroke="#2f2f2f" stroke-width="2.55" stroke-linejoin="round" stroke-dasharray="5 2.7"/>
<polyline points="1111.1,1100.1 1227.1,1100.1" fill="none" stroke="#2f2f2f" stroke-width="2.55" stroke-linejoin="round"/>
<polyline points="1233.9,1091.4 1268.8,1025.5 1289.6,1112.7 1336.4,1080.3 1391.0,1080.3 1396.7,1070.1 1427.4,1025.0 1450.8,1117.3 1492.4,1077.8 1552.8,1077.8 1586.1,1025.0 1606.9,1115.8 1654.7,1074.7" fill="none" stroke="#2f2f2f" stroke-width="2.55" stroke-linejoin="round" stroke-dasharray="10.2 3.6"/>
<polyline points="1289.6,1122.9 1336.4,1078.8 1391.0,1078.8" fill="none" stroke="#2f2f2f" stroke-width="2.55" stroke-linejoin="round"/>
<polyline points="1289.6,1114.5 1336.4,1082.1 1391.0,1082.1" fill="none" stroke="#2f2f2f" stroke-width="2.55" stroke-linejoin="round" stroke-dasharray="5 2.7"/>
<polyline points="1450.8,1119.3 1492.4,1076.2 1549.6,1076.2" fill="none" stroke="#2f2f2f" stroke-width="2.55" stroke-linejoin="round"/>
<polyline points="1450.8,1117.8 1492.4,1080.8 1547.0,1080.8" fill="none" stroke="#2f2f2f" stroke-width="2.55" stroke-linejoin="round" stroke-dasharray="5 2.7"/>
<polyline points="1606.9,1116.8 1654.7,1073.7" fill="none" stroke="#2f2f2f" stroke-width="2.55" stroke-linejoin="round"/>
<line x1="1237.9" y1="741.0" x2="1237.9" y2="1187.0" stroke="#2f2f2f" stroke-width="2.4" stroke-dasharray="4.6 2.9"/>
<line x1="1269.2" y1="741.0" x2="1269.2" y2="1187.0" stroke="#2f2f2f" stroke-width="2.4" stroke-dasharray="4.6 2.9"/>
<line x1="1396.6" y1="741.0" x2="1396.6" y2="1187.0" stroke="#2f2f2f" stroke-width="2.4" stroke-dasharray="4.6 2.9"/>
<line x1="1427.8" y1="741.0" x2="1427.8" y2="1187.0" stroke="#2f2f2f" stroke-width="2.4" stroke-dasharray="4.6 2.9"/>
<line x1="1555.2" y1="741.0" x2="1555.2" y2="1187.0" stroke="#2f2f2f" stroke-width="2.4" stroke-dasharray="4.6 2.9"/>
<line x1="1586.5" y1="741.0" x2="1586.5" y2="1187.0" stroke="#2f2f2f" stroke-width="2.4" stroke-dasharray="4.6 2.9"/>
<polyline points="1060.0,742.4 1067.5,742.4 1067.5,1148.8 1060.0,1148.8" fill="none" stroke="#2f2f2f" stroke-width="3.6" stroke-linejoin="round" stroke-linecap="round"/>
<polyline points="1107.5,1195.6 1107.5,1188.5 1731.7,1188.5 1731.7,1195.6" fill="none" stroke="#2f2f2f" stroke-width="3.6" stroke-linejoin="round" stroke-linecap="round"/>
<text x="1056.5" y="751.6" text-anchor="end" class="tk">220</text>
<line x1="1060.0" y1="793.2" x2="1067.5" y2="793.2" stroke="#2f2f2f" stroke-width="3.6" stroke-linecap="round"/>
<text x="1056.5" y="802.4" text-anchor="end" class="tk">200</text>
<line x1="1060.0" y1="844.0" x2="1067.5" y2="844.0" stroke="#2f2f2f" stroke-width="3.6" stroke-linecap="round"/>
<text x="1056.5" y="853.2" text-anchor="end" class="tk">180</text>
<line x1="1060.0" y1="894.8" x2="1067.5" y2="894.8" stroke="#2f2f2f" stroke-width="3.6" stroke-linecap="round"/>
<text x="1056.5" y="904.0" text-anchor="end" class="tk">160</text>
<line x1="1060.0" y1="945.6" x2="1067.5" y2="945.6" stroke="#2f2f2f" stroke-width="3.6" stroke-linecap="round"/>
<text x="1056.5" y="954.8" text-anchor="end" class="tk">140</text>
<line x1="1060.0" y1="996.4" x2="1067.5" y2="996.4" stroke="#2f2f2f" stroke-width="3.6" stroke-linecap="round"/>
<text x="1056.5" y="1005.6" text-anchor="end" class="tk">120</text>
<line x1="1060.0" y1="1047.2" x2="1067.5" y2="1047.2" stroke="#2f2f2f" stroke-width="3.6" stroke-linecap="round"/>
<text x="1056.5" y="1056.4" text-anchor="end" class="tk">100</text>
<line x1="1060.0" y1="1098.0" x2="1067.5" y2="1098.0" stroke="#2f2f2f" stroke-width="3.6" stroke-linecap="round"/>
<text x="1056.5" y="1107.2" text-anchor="end" class="tk">80</text>
<text x="1056.5" y="1158.0" text-anchor="end" class="tk">60</text>
<text x="1107.5" y="1222.5" text-anchor="middle" class="tk">0</text>
<line x1="1211.5" y1="1188.5" x2="1211.5" y2="1195.6" stroke="#2f2f2f" stroke-width="3.6" stroke-linecap="round"/>
<text x="1211.5" y="1222.5" text-anchor="middle" class="tk">200</text>
<line x1="1315.6" y1="1188.5" x2="1315.6" y2="1195.6" stroke="#2f2f2f" stroke-width="3.6" stroke-linecap="round"/>
<text x="1315.6" y="1222.5" text-anchor="middle" class="tk">400</text>
<line x1="1419.6" y1="1188.5" x2="1419.6" y2="1195.6" stroke="#2f2f2f" stroke-width="3.6" stroke-linecap="round"/>
<text x="1419.6" y="1222.5" text-anchor="middle" class="tk">600</text>
<line x1="1523.6" y1="1188.5" x2="1523.6" y2="1195.6" stroke="#2f2f2f" stroke-width="3.6" stroke-linecap="round"/>
<text x="1523.6" y="1222.5" text-anchor="middle" class="tk">800</text>
<line x1="1627.7" y1="1188.5" x2="1627.7" y2="1195.6" stroke="#2f2f2f" stroke-width="3.6" stroke-linecap="round"/>
<text x="1627.7" y="1222.5" text-anchor="middle" class="tk">1000</text>
<text x="1731.7" y="1222.5" text-anchor="middle" class="tk">1200</text>
<text x="1419.6" y="1266.6" text-anchor="middle" class="tt" style="font-size:33.2px">time (sec)</text>
<text transform="translate(994.5,943.0) rotate(-90)" text-anchor="middle" class="tt" style="font-size:33.2px">SBP/DBP (mmHg)</text>
<text x="940.3" y="691.8" class="pl">D</text>
<line x1="1091.7" y1="885.4" x2="1119.0" y2="885.4" stroke="#2f2f2f" stroke-width="2.6" stroke-dasharray="4.5 3.2"/>
<text x="1134.5" y="892.2" class="lg">50%</text>
<line x1="1092.6" y1="912.4" x2="1121.0" y2="912.4" stroke="#2f2f2f" stroke-width="2.6" stroke-dasharray="9 3.7"/>
<text x="1135.5" y="919.2" class="lg">62.5%</text>
<line x1="1090.4" y1="938.5" x2="1118.3" y2="938.5" stroke="#2f2f2f" stroke-width="2.6" />
<text x="1133.0" y="945.3" class="lg">75%</text>
</g>
</svg></body></html>
